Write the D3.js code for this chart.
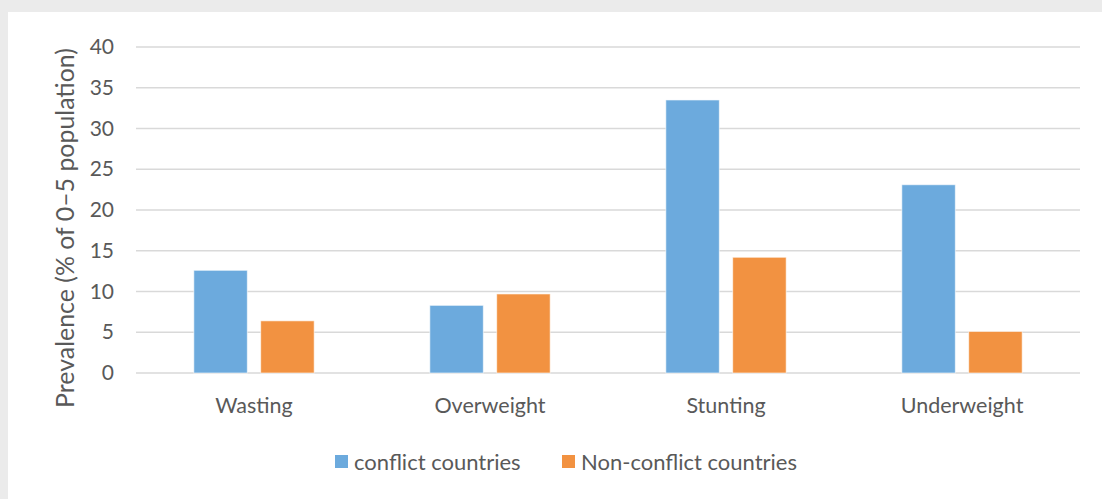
<!DOCTYPE html>
<html>
<head>
<meta charset="utf-8">
<script src="https://cdn.jsdelivr.net/npm/d3@7/dist/d3.min.js"></script>
<style>
  html, body { margin: 0; padding: 0; background: #ebebeb; }
  svg { display: block; }
  text { font-family: Lato, "Open Sans", "DejaVu Sans", sans-serif; fill: #595959; }
</style>
</head>
<body>
<svg id="chart" width="1102" height="499"></svg>
<script>
// Prevalence of child malnutrition indicators, conflict vs non-conflict countries
const categories = ["Wasting", "Overweight", "Stunting", "Underweight"];
const seriesNames = ["conflict countries", "Non-conflict countries"];
const conflictValues = [12.6, 8.3, 33.5, 23.1];
const nonConflictValues = [6.4, 9.7, 14.2, 5.1];
const yTicks = [0, 5, 10, 15, 20, 25, 30, 35, 40];
const colors = ["#6CAADD", "#F29241"];

const svg = d3.select("#chart");
const W = 1102, H = 499;

// White chart panel on grey page
svg.append("rect").attr("x", 8).attr("y", 12).attr("width", W - 8).attr("height", H - 12).attr("fill", "#ffffff");

const margin = { left: 136, right: 22, top: 47, bottom: 126 };
const plotW = W - margin.left - margin.right;
const plotH = H - margin.top - margin.bottom;

const g = svg.append("g").attr("transform", `translate(${margin.left},${margin.top})`);

const y = d3.scaleLinear().domain([0, 40]).range([plotH, 0]);
const x0 = d3.scaleBand().domain(categories).range([0, plotW]).paddingInner(0.49).paddingOuter(0.245);
const x1 = d3.scaleBand().domain(seriesNames).range([0, x0.bandwidth()]).paddingInner(0.2);

// Horizontal gridlines
g.append("g").selectAll("line").data(yTicks).join("line")
  .attr("x1", 0).attr("x2", plotW)
  .attr("y1", d => y(d)).attr("y2", d => y(d))
  .attr("stroke", "#d9d9d9").attr("stroke-width", 1.5);

// Y axis tick labels
const yAxis = d3.axisLeft(y).tickValues(yTicks).tickSize(0).tickPadding(22);
const yG = g.append("g").call(yAxis);
yG.select(".domain").remove();
yG.selectAll("text").attr("font-size", 21).style("fill", "#595959")
  .style("font-family", "Lato, 'Open Sans', sans-serif");

// Bars
const rows = categories.map((c, i) => ({ cat: c, vals: [conflictValues[i], nonConflictValues[i]] }));
const groups = g.append("g").selectAll("g").data(rows).join("g")
  .attr("transform", d => `translate(${x0(d.cat)},0)`);
groups.selectAll("rect").data(d => d.vals.map((v, j) => ({ name: seriesNames[j], v, j })))
  .join("rect")
  .attr("x", d => x1(d.name))
  .attr("width", x1.bandwidth())
  .attr("y", d => y(d.v))
  .attr("height", d => y(0) - y(d.v))
  .attr("fill", d => colors[d.j])
  .attr("stroke", "rgba(255,255,255,0.6)").attr("stroke-width", 1);

// Category axis labels
const xAxis = d3.axisBottom(x0).tickSize(0).tickPadding(25);
const xG = g.append("g").attr("transform", `translate(0,${plotH})`).call(xAxis);
xG.select(".domain").remove();
xG.selectAll("text").attr("font-size", 21.5).style("fill", "#595959")
  .style("font-family", "Lato, 'Open Sans', sans-serif");

// Y axis title
svg.append("text")
  .attr("transform", `translate(74,228) rotate(-90)`)
  .attr("text-anchor", "middle")
  .attr("font-size", 24.9)
  .text("Prevalence (% of 0\u20135 population)");

// Legend
const legendItems = [
  { name: seriesNames[0], color: colors[0], x: 335 },
  { name: seriesNames[1], color: colors[1], x: 562 }
];
const lg = svg.append("g");
legendItems.forEach(it => {
  lg.append("rect").attr("x", it.x).attr("y", 455).attr("width", 13).attr("height", 13).attr("fill", it.color);
  lg.append("text").attr("x", it.x + 19).attr("y", 470).attr("font-size", 22).text(it.name);
});
</script>
</body>
</html>
